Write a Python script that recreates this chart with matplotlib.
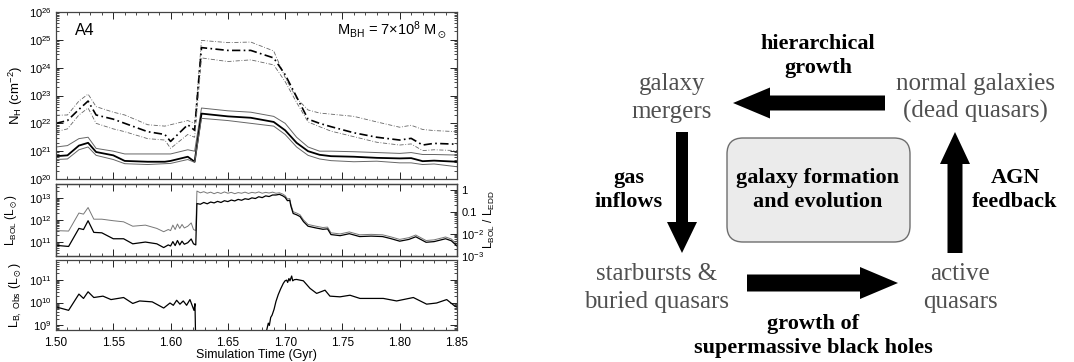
import numpy as np
import matplotlib
matplotlib.use('Agg')
import matplotlib.pyplot as plt
from matplotlib.patches import FancyArrow, FancyBboxPatch
from matplotlib.ticker import LogLocator, MultipleLocator, NullFormatter, FixedLocator, FixedFormatter

plt.rcParams['font.family'] = ['Liberation Sans', 'DejaVu Sans']
plt.rcParams['mathtext.fontset'] = 'custom'
plt.rcParams['mathtext.rm'] = 'Liberation Sans'
plt.rcParams['mathtext.it'] = 'Liberation Sans:italic'
plt.rcParams['mathtext.default'] = 'regular'

# ---- column density panel (log10 N_H) ----
t_nh = [1.500, 1.510, 1.520, 1.528, 1.535, 1.550, 1.560, 1.580, 1.595, 1.600, 1.615, 1.621, 1.627, 1.650,
        1.670, 1.690, 1.700, 1.710, 1.720, 1.730, 1.740, 1.760, 1.780, 1.800, 1.810, 1.820, 1.830, 1.850]
nh_dd_hi = [22.29, 22.30, 22.80, 23.05, 22.60, 22.40, 22.30, 21.95, 21.90, 21.95, 22.10, 22.00, 24.98, 24.90,
            24.92, 24.60, 23.65, 22.90, 22.48, 22.37, 22.33, 22.25, 22.05, 21.86, 21.93, 21.78, 21.74, 21.70]
nh_dd_mid = [22.00, 22.10, 22.50, 22.80, 22.30, 22.15, 22.00, 21.70, 21.60, 21.35, 21.95, 21.75, 24.72, 24.62,
             24.62, 24.35, 23.75, 22.95, 22.15, 22.00, 21.88, 21.66, 21.50, 21.40, 21.46, 21.22, 21.28, 21.25]
nh_dd_lo = [21.70, 21.80, 22.30, 22.55, 22.00, 21.80, 21.70, 21.45, 21.40, 21.10, 21.60, 21.50, 24.35, 24.22,
            24.28, 24.10, 23.50, 22.75, 22.05, 21.88, 21.72, 21.52, 21.32, 21.22, 21.26, 21.02, 21.05, 21.02]
nh_s_hi = [21.15, 21.20, 21.45, 21.50, 21.10, 21.00, 20.90, 20.90, 20.90, 20.90, 21.05, 21.00, 22.55, 22.45,
           22.40, 22.25, 22.00, 21.50, 21.15, 21.00, 21.00, 20.98, 20.95, 20.92, 20.95, 20.88, 20.88, 20.86]
nh_s_mid = [20.82, 20.85, 21.20, 21.30, 20.97, 20.85, 20.65, 20.62, 20.62, 20.65, 20.80, 20.62, 22.35, 22.25,
            22.20, 22.05, 21.75, 21.30, 21.00, 20.87, 20.82, 20.80, 20.76, 20.74, 20.75, 20.64, 20.66, 20.62]
nh_s_lo = [20.70, 20.72, 21.05, 21.15, 20.85, 20.70, 20.55, 20.52, 20.55, 20.56, 20.70, 20.60, 22.18, 22.10,
           22.00, 21.90, 21.60, 21.15, 20.85, 20.72, 20.66, 20.62, 20.64, 20.58, 20.58, 20.52, 20.54, 20.44]

# ---- bolometric luminosity panel (log10 L / Lsun) ----
t_bol = [1.500, 1.511, 1.520, 1.524, 1.528, 1.533, 1.540, 1.550, 1.559, 1.567, 1.578, 1.588, 1.594, 1.598,
         1.600, 1.602, 1.604, 1.606, 1.608, 1.610, 1.612, 1.615, 1.618, 1.620, 1.622, 1.623,
         1.626, 1.629, 1.632, 1.635, 1.638, 1.641, 1.644, 1.647, 1.650, 1.653, 1.656, 1.659,
         1.662, 1.665, 1.668, 1.671, 1.674, 1.677, 1.680, 1.683, 1.686, 1.689, 1.692, 1.695,
         1.698, 1.700, 1.702, 1.704, 1.705, 1.707, 1.710, 1.713, 1.716, 1.720, 1.727, 1.733,
         1.737, 1.740, 1.748, 1.756, 1.765, 1.775, 1.785, 1.792, 1.800, 1.808, 1.814, 1.823,
         1.830, 1.840, 1.845, 1.850]
bol_gray = [11.50, 11.48, 12.30, 12.25, 12.55, 12.02, 12.02, 11.95, 11.90, 11.70, 11.75, 11.60, 11.45, 11.55,
            11.50, 11.75, 11.55, 11.80, 11.60, 11.78, 11.62, 11.70, 11.85, 11.55, 11.50, 13.30,
            13.22, 13.27, 13.20, 13.25, 13.18, 13.24, 13.19, 13.26, 13.20, 13.24, 13.18, 13.23,
            13.20, 13.25, 13.19, 13.24, 13.21, 13.26, 13.20, 13.24, 13.21, 13.25, 13.20, 13.22,
            13.16, 13.09, 12.94, 12.96, 12.70, 12.36, 12.30, 12.22, 11.99, 11.78, 11.70, 11.64,
            11.66, 11.40, 11.35, 11.44, 11.31, 11.33, 11.31, 11.22, 11.10, 11.18, 11.30, 11.05,
            11.08, 11.21, 11.12, 10.88]
bol_black = [10.83, 10.78, 11.60, 11.55, 11.95, 11.42, 11.40, 11.13, 11.13, 10.90, 10.98, 10.90, 10.73, 10.85,
             10.80, 11.00, 10.82, 11.05, 10.85, 11.02, 10.88, 10.95, 11.12, 10.90, 10.85, 12.73,
             12.70, 12.78, 12.72, 12.80, 12.76, 12.83, 12.78, 12.86, 12.82, 12.89, 12.85, 12.92,
             12.88, 12.95, 12.92, 12.99, 12.96, 13.04, 13.00, 13.08, 13.05, 13.12, 13.12, 13.15,
             13.08, 13.01, 12.86, 12.88, 12.62, 12.28, 12.22, 12.14, 11.91, 11.70, 11.62, 11.56,
             11.58, 11.32, 11.27, 11.36, 11.23, 11.25, 11.23, 11.14, 11.02, 11.10, 11.22, 10.97,
             11.00, 11.13, 11.04, 10.80]
L_EDD = 2.24e13  # Eddington luminosity for 7e8 Msun, in Lsun

# ---- observed B-band luminosity panel (log10 L / Lsun), nan = hidden below axis ----
t_lb = [1.500, 1.511, 1.520, 1.524, 1.528, 1.533, 1.541, 1.548, 1.559, 1.567, 1.573, 1.584, 1.594,
        1.5995, 1.6024, 1.6053, 1.6082, 1.6111, 1.614, 1.6169, 1.6193, 1.6204, 1.6213, 1.6222,
        1.650,
        1.6824, 1.683, 1.6853, 1.6862, 1.6874, 1.6886, 1.6903, 1.6920, 1.6940, 1.6961, 1.6984,
        1.6999, 1.7013, 1.7022, 1.7033, 1.7042, 1.7057, 1.7066, 1.7080, 1.7100, 1.7159, 1.7217,
        1.7275, 1.7348, 1.7391, 1.7479, 1.7566, 1.7653, 1.7857, 1.7973, 1.8119, 1.8235, 1.8322,
        1.8410, 1.8482, 1.850]
lb_obs = [9.81, 9.66, 10.37, 10.18, 10.47, 10.22, 10.28, 10.13, 10.22, 9.96, 10.07, 10.03, 9.76,
          9.98, 9.88, 10.10, 9.93, 10.07, 9.88, 10.13, 9.81, 9.66, 9.95, 7.50,
          np.nan,
          8.20, 8.60, 9.10, 9.00, 9.35, 9.45, 9.70, 10.05, 10.35, 10.60, 10.84,
          10.95, 10.98, 10.88, 11.05, 10.95, 11.16, 10.95, 11.00, 11.01, 10.95, 10.62,
          10.40, 10.54, 10.28, 10.25, 10.32, 10.18, 10.18, 10.07, 10.22, 9.93, 9.98,
          10.13, 9.84, 9.80]

# ---- cycle diagram text ----
node_labels = ['galaxy\nmergers', 'normal galaxies\n(dead quasars)',
               'starbursts &\nburied quasars', 'active\nquasars']
node_xy = [(672, 98), (975, 98), (657, 288), (960, 288)]
edge_labels = ['hierarchical\ngrowth', 'gas\ninflows', 'AGN\nfeedback',
               'growth of\nsupermassive black holes']
edge_xy = [(818, 56), (629, 190), (1015, 190), (813, 336)]
center_label = 'galaxy formation\nand evolution'

fig = plt.figure(figsize=(10.74, 3.62), dpi=100)
W, H = 1074.0, 362.0


def panel(top, bottom):
    return fig.add_axes([56 / W, 1 - bottom / H, 401 / W, (bottom - top) / H])


def style(ax, ylim, right=True):
    ax.set_xlim(1.5, 1.85)
    ax.set_yscale('log')
    ax.set_ylim(*ylim)
    ax.xaxis.set_major_locator(MultipleLocator(0.05))
    ax.xaxis.set_minor_locator(MultipleLocator(0.01))
    ax.yaxis.set_major_locator(LogLocator(base=10, numticks=20))
    ax.yaxis.set_minor_locator(LogLocator(base=10, subs=np.arange(2, 10), numticks=20))
    ax.yaxis.set_minor_formatter(NullFormatter())
    ax.tick_params(which='both', direction='in', top=True, right=right, labelsize=8, pad=3)
    ax.tick_params(axis='x', labelsize=8.5)
    ax.tick_params(which='major', length=5, width=0.6)
    ax.tick_params(which='minor', length=2.5, width=0.5)
    for s in ax.spines.values():
        s.set_linewidth(0.9)
        s.set_color('#444444')


dd = (0, (5, 2, 1, 2))

ax1 = panel(12, 179)
t = np.array(t_nh)
ax1.plot(t, 10 ** np.array(nh_dd_hi), color='#666666', lw=0.6, ls=dd)
ax1.plot(t, 10 ** np.array(nh_dd_mid), color='black', lw=1.2, ls=dd)
ax1.plot(t, 10 ** np.array(nh_dd_lo), color='#666666', lw=0.6, ls=dd)
ax1.plot(t, 10 ** np.array(nh_s_hi), color='#666666', lw=0.7)
ax1.plot(t, 10 ** np.array(nh_s_mid), color='black', lw=1.3)
ax1.plot(t, 10 ** np.array(nh_s_lo), color='#666666', lw=0.7)
style(ax1, (1e20, 1e26))
ax1.tick_params(labelbottom=False)
ax1.set_ylabel(r'N$_H$ (cm$^{-2}$)', fontsize=9.5)
ax1.yaxis.set_label_coords(-0.077, 0.5)
ax1.text(0.047, 0.892, 'A4', transform=ax1.transAxes, fontsize=11.5, va='center')
ax1.text(0.975, 0.892, r'M$_{BH}$ = 7×10$^8$ M$_\odot$', transform=ax1.transAxes,
         fontsize=10.5, va='center', ha='right')

ax2 = panel(184, 256)
t = np.array(t_bol)
ax2.plot(t, 10 ** np.array(bol_gray), color='#777777', lw=0.7)
ax2.plot(t, 10 ** np.array(bol_black), color='black', lw=0.9)
lim2 = (L_EDD * 0.99e-3, 10 ** 13.62)
style(ax2, lim2, right=False)
ax2.tick_params(labelbottom=False)
ax2.set_ylabel(r'L$_{BOL}$ (L$_\odot$)', fontsize=8.5)
ax2.yaxis.set_label_coords(-0.093, 0.5)
tw = ax2.twinx()
tw.set_yscale('log')
tw.set_ylim(lim2[0] / L_EDD, lim2[1] / L_EDD)
tw.yaxis.set_major_locator(FixedLocator([1e-3, 1e-2, 1e-1, 1]))
tw.yaxis.set_major_formatter(FixedFormatter([r'$10^{-3}$', r'$10^{-2}$', '0.1', '1']))
tw.yaxis.set_minor_locator(LogLocator(base=10, subs=np.arange(2, 10), numticks=20))
tw.yaxis.set_minor_formatter(NullFormatter())
tw.tick_params(which='both', direction='in', labelsize=8, pad=3)
tw.tick_params(which='major', length=5, width=0.6)
tw.tick_params(which='minor', length=2.5, width=0.5)
for s in tw.spines.values():
    s.set_linewidth(0.9)
    s.set_color('#444444')
tw.set_ylabel(r'L$_{BOL}$ / L$_{EDD}$', fontsize=8.5)
tw.yaxis.set_label_coords(1.062, 0.5)

ax3 = panel(260, 330)
ax3.plot(np.array(t_lb), 10 ** np.array(lb_obs), color='black', lw=0.9)
style(ax3, (10 ** 8.8, 10 ** 11.86))
ax3.set_xticks([1.50, 1.55, 1.60, 1.65, 1.70, 1.75, 1.80, 1.85])
ax3.set_xticklabels(['1.50', '1.55', '1.60', '1.65', '1.70', '1.75', '1.80', '1.85'])
ax3.tick_params(axis='x', pad=5)
ax3.set_ylabel(r'L$_{B,\ Obs}$ (L$_\odot$)', fontsize=9)
ax3.yaxis.set_label_coords(-0.08, 0.5)
ax3.set_xlabel('Simulation Time (Gyr)', fontsize=9, labelpad=0)

# ---- diagram ----
axd = fig.add_axes([540 / W, 0, 534 / W, 1])
axd.set_xlim(540, 1074)
axd.set_ylim(362, 0)
axd.axis('off')

serif = ['Liberation Serif', 'DejaVu Serif']
for lab, (x, y) in zip(node_labels, node_xy):
    axd.text(x, y, lab, ha='center', va='center', fontsize=18, color='#505050',
             family=serif, linespacing=1.32)
for lab, (x, y) in zip(edge_labels, edge_xy):
    axd.text(x, y, lab, ha='center', va='center', fontsize=16, fontweight='bold',
             color='black', family=serif, linespacing=1.25)

box = FancyBboxPatch((727, 138), 183, 104, boxstyle='round,pad=0,rounding_size=16',
                     facecolor='#ebebeb', edgecolor='#6e6e6e', lw=1.0)
axd.add_patch(box)
axd.text(818, 190, center_label, ha='center', va='center', fontsize=16, fontweight='bold',
         family=serif, linespacing=1.25)

arrows = [
    (885, 103, -152, 0, 15, 31, 37),
    (682, 132, 0, 121, 12, 30, 31),
    (955, 253, 0, -121, 15, 30, 32),
    (747, 283, 151, 0, 17, 32, 38),
]
for x, y, dx, dy, w, hw, hl in arrows:
    axd.add_patch(FancyArrow(x, y, dx, dy, width=w, head_width=hw, head_length=hl,
                             length_includes_head=True, color='black', lw=0))

fig.savefig('out.png', dpi=100)
